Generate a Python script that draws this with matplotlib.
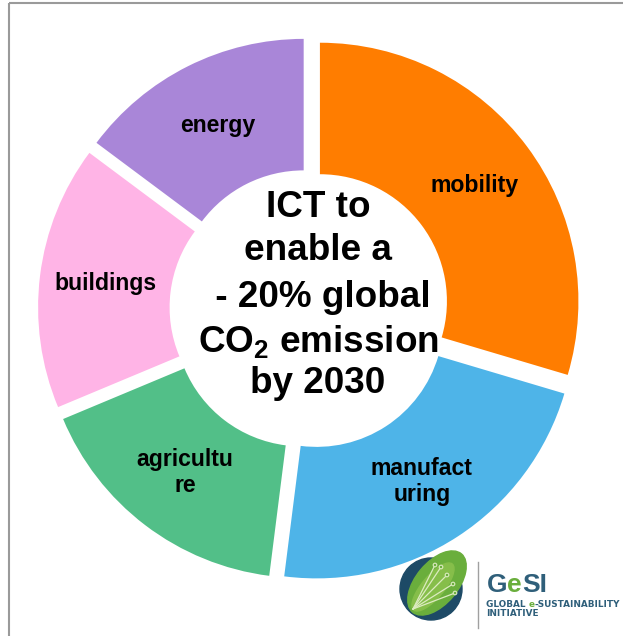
import matplotlib
matplotlib.use("Agg")
import matplotlib.pyplot as plt
from matplotlib.patches import Circle, Ellipse
import numpy as np

plt.rcParams['font.family'] = ['Liberation Sans', 'DejaVu Sans']
plt.rcParams['mathtext.fontset'] = 'custom'
plt.rcParams['mathtext.rm'] = 'Liberation Sans:bold'
plt.rcParams['mathtext.it'] = 'Liberation Sans:bold'
plt.rcParams['mathtext.bf'] = 'Liberation Sans:bold'

# ---- data ----
sectors = ["mobility", "manufact\nuring", "agricultu\nre", "buildings", "energy"]
shares = [29.6, 22.4, 16.7, 16.5, 14.8]
colors = ["#FF7D00", "#4EB4E8", "#52BF88", "#FFB4E6", "#A986D8"]
center_lines = ["ICT to", "enable a", " - 20% global", "CO$_2$ emission", "by 2030"]

W, H = 623, 636
fig = plt.figure(figsize=(W / 100, H / 100), dpi=100)
ax = fig.add_axes([0, 0, 1, 1])

cx, cy = 309.5, H - 309
R = 258.5
r_in = 127
gap = 13
ax.pie(shares, labels=sectors, colors=colors, startangle=90, counterclock=False,
       center=(cx, cy), radius=R, explode=[gap] * len(shares),
       labeldistance=((R + r_in) / 2) / R,
       wedgeprops=dict(width=R - r_in, linewidth=0),
       textprops=dict(fontsize=16.6, fontweight='bold', color='black',
                      ha='center', va='center', linespacing=1.15))

ax.set_xlim(0, W)
ax.set_ylim(0, H)
ax.set_aspect('auto')
ax.axis('off')

# center text
line_y = [217, 260, 307, 352, 393]
for txt, yb in zip(center_lines, line_y):
    ax.text(318, H - yb, txt, ha='center', va='baseline', fontsize=26.6,
            fontweight='bold', color='black')

# border
ax.plot([9, W + 5], [H - 3, H - 3], color='#9a9a9a', lw=1.5, solid_capstyle='butt', clip_on=False)
ax.plot([9, 9], [H - 3, -5], color='#9a9a9a', lw=1.5, solid_capstyle='butt', clip_on=False)

# ---- GeSI logo ----
lcx, lcy = 431, H - 589
ax.add_patch(Circle((lcx, lcy), 31, color='#1D4A66', zorder=5))
ax.add_patch(Ellipse((lcx + 6, lcy + 6), 76, 42, angle=50, color='#6AAE3C', zorder=6))
ax.add_patch(Ellipse((lcx + 2, lcy + 2), 60, 22, angle=50, color='#86BE4A', zorder=6))
for (dx, dy) in [(10, 22), (16, 14), (22, 5), (24, -4), (4, 24)]:
    ax.plot([lcx - 18, lcx + dx], [lcy - 20, lcy + dy], color='#DCEBC0', lw=0.9, zorder=7)
    ax.add_patch(Circle((lcx + dx, lcy + dy), 1.8, facecolor='#6AAE3C',
                        edgecolor='#DCEBC0', lw=0.8, zorder=8))
ax.plot([478, 478], [H - 562, H - 628], color='#a0a0a0', lw=1, zorder=5)

teal = '#2F5F7A'
green = '#6AAE3C'
fig.canvas.draw()
rend = fig.canvas.get_renderer()
inv = ax.transData.inverted()


def colored_run(x, y, parts, **kw):
    for s, c in parts:
        t = ax.text(x, y, s, color=c, ha='left', va='baseline', zorder=9, clip_on=False, **kw)
        bb = t.get_window_extent(renderer=rend)
        x = inv.transform((bb.x1, bb.y0))[0]


colored_run(487, H - 592, [("G", teal), ("e", green), ("SI", teal)], fontsize=19, fontweight='bold')
colored_run(486, H - 607, [("GLOBAL ", teal), ("e", green), ("-SUSTAINABILITY", teal)],
            fontsize=6.4, fontweight='bold', family='DejaVu Sans')
colored_run(486, H - 616.5, [("INITIATIVE", teal)], fontsize=6.4, fontweight='bold',
            family='DejaVu Sans')

fig.savefig("out.png", dpi=100)
